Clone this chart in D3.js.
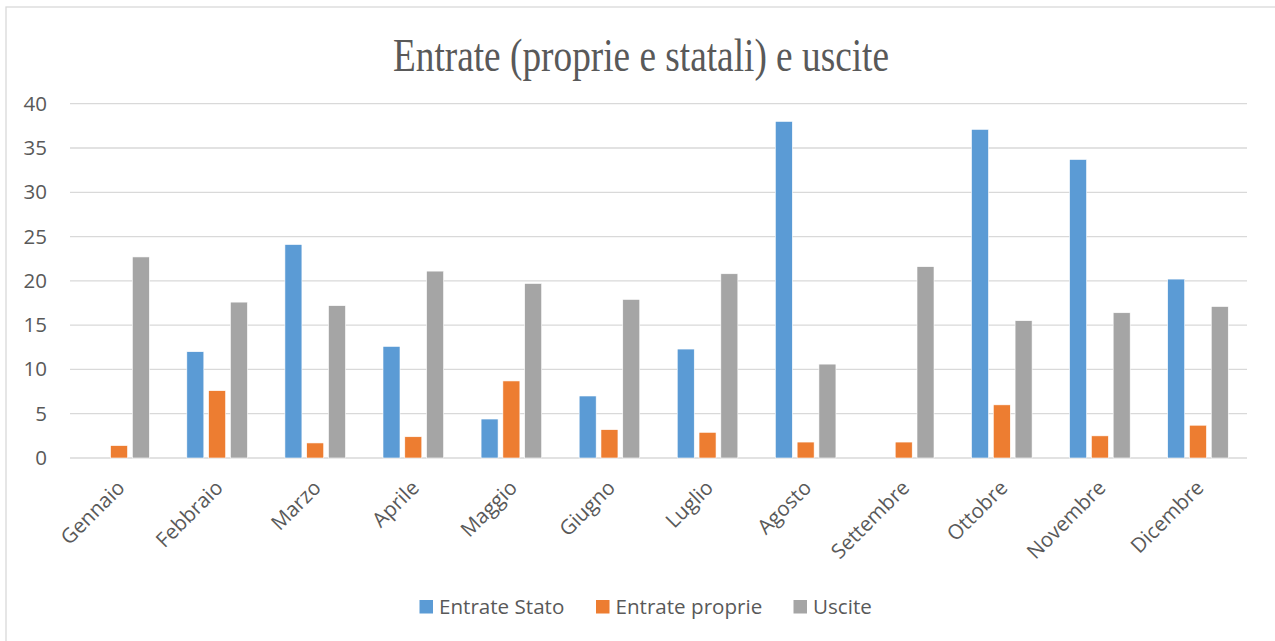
<!DOCTYPE html>
<html>
<head>
<meta charset="utf-8">
<script src="https://cdn.jsdelivr.net/npm/d3@7"></script>
<style>
  html, body { margin: 0; padding: 0; background: #ffffff; }
  svg { display: block; }
</style>
</head>
<body>
<svg id="chart" width="1275" height="641"></svg>
<script>
// ---- data ----
const months = ["Gennaio","Febbraio","Marzo","Aprile","Maggio","Giugno","Luglio","Agosto","Settembre","Ottobre","Novembre","Dicembre"];
const seriesNames = ["Entrate Stato","Entrate proprie","Uscite"];
const entrateStato   = [0, 12.0, 24.1, 12.6, 4.4, 7.0, 12.3, 38.0, 0, 37.1, 33.7, 20.2];
const entrateProprie = [1.4, 7.6, 1.7, 2.4, 8.7, 3.2, 2.9, 1.8, 1.8, 6.0, 2.5, 3.7];
const uscite         = [22.7, 17.6, 17.2, 21.1, 19.7, 17.9, 20.8, 10.6, 21.6, 15.5, 16.4, 17.1];
const yTicks = [0, 5, 10, 15, 20, 25, 30, 35, 40];
const colors = ["#5B9BD5", "#ED7D31", "#A5A5A5"];
const titleText = "Entrate (proprie e statali) e uscite";

const seriesValues = [entrateStato, entrateProprie, uscite];

// ---- layout ----
const svg = d3.select("#chart");
const plot = { left: 70, right: 1247, top: 103.7, bottom: 458 };
const textColor = "#595959";
const font = "'Open Sans', sans-serif";

// chart border
svg.append("rect")
  .attr("x", 6).attr("y", 7)
  .attr("width", 1280).attr("height", 640)
  .attr("fill", "none").attr("stroke", "#D9D9D9").attr("stroke-width", 1.3);

// title
svg.append("text")
  .attr("x", 641).attr("y", 71)
  .attr("text-anchor", "middle")
  .attr("font-family", "'Liberation Serif', 'Times New Roman', serif")
  .attr("font-size", 46)
  .attr("fill", textColor)
  .attr("textLength", 496)
  .attr("lengthAdjust", "spacingAndGlyphs")
  .text(titleText);

// scales
const x = d3.scaleBand().domain(months).range([plot.left, plot.right]).paddingInner(0).paddingOuter(0);
const xs = d3.scaleBand().domain(seriesNames).range([0, x.bandwidth()]).paddingInner(0.22).paddingOuter(0.86);
const y = d3.scaleLinear().domain([0, 40]).range([plot.bottom, plot.top]);

// gridlines
svg.append("g")
  .selectAll("line")
  .data(yTicks)
  .join("line")
  .attr("x1", plot.left).attr("x2", plot.right)
  .attr("y1", d => y(d)).attr("y2", d => y(d))
  .attr("stroke", "#D9D9D9")
  .attr("stroke-width", d => d === 0 ? 1.6 : 1.3);

// y-axis labels via d3 axis
const yAxis = svg.append("g")
  .attr("transform", `translate(${plot.left},0)`)
  .call(d3.axisLeft(y).tickValues(yTicks).tickSize(0).tickPadding(23));
yAxis.select(".domain").remove();
yAxis.selectAll("text")
  .attr("font-family", font).attr("font-size", 20.5).attr("fill", textColor);

// bars
const groups = svg.append("g").selectAll("g")
  .data(months)
  .join("g")
  .attr("transform", d => `translate(${x(d)},0)`);

groups.selectAll("rect")
  .data((m, i) => seriesNames.map((s, k) => ({ s, k, v: seriesValues[k][i] })))
  .join("rect")
  .attr("x", d => xs(d.s))
  .attr("width", xs.bandwidth())
  .attr("y", d => y(d.v))
  .attr("height", d => y(0) - y(d.v))
  .attr("fill", d => colors[d.k])
  .attr("stroke", "#ffffff")
  .attr("stroke-width", 0.6)
  .attr("display", d => d.v > 0 ? null : "none");

// x-axis labels
const xAxis = svg.append("g")
  .attr("transform", `translate(0,${plot.bottom})`)
  .call(d3.axisBottom(x).tickSize(0).tickPadding(0));
xAxis.select(".domain").remove();
xAxis.selectAll("text")
  .attr("font-family", font).attr("font-size", 20.5).attr("fill", textColor)
  .attr("text-anchor", "end")
  .attr("dy", 0)
  .attr("y", 0)
  .attr("transform", "translate(7,31) rotate(-45)");

// legend
const legendX = [419.5, 596, 793.5];
const legend = svg.append("g").selectAll("g")
  .data(seriesNames)
  .join("g")
  .attr("transform", (d, i) => `translate(${legendX[i]},600)`);
legend.append("rect")
  .attr("width", 13.5).attr("height", 13.5)
  .attr("fill", (d, i) => colors[i]);
legend.append("text")
  .attr("x", 19.5).attr("y", 14)
  .attr("font-family", font).attr("font-size", 20.6).attr("fill", textColor)
  .text(d => d);
</script>
</body>
</html>
